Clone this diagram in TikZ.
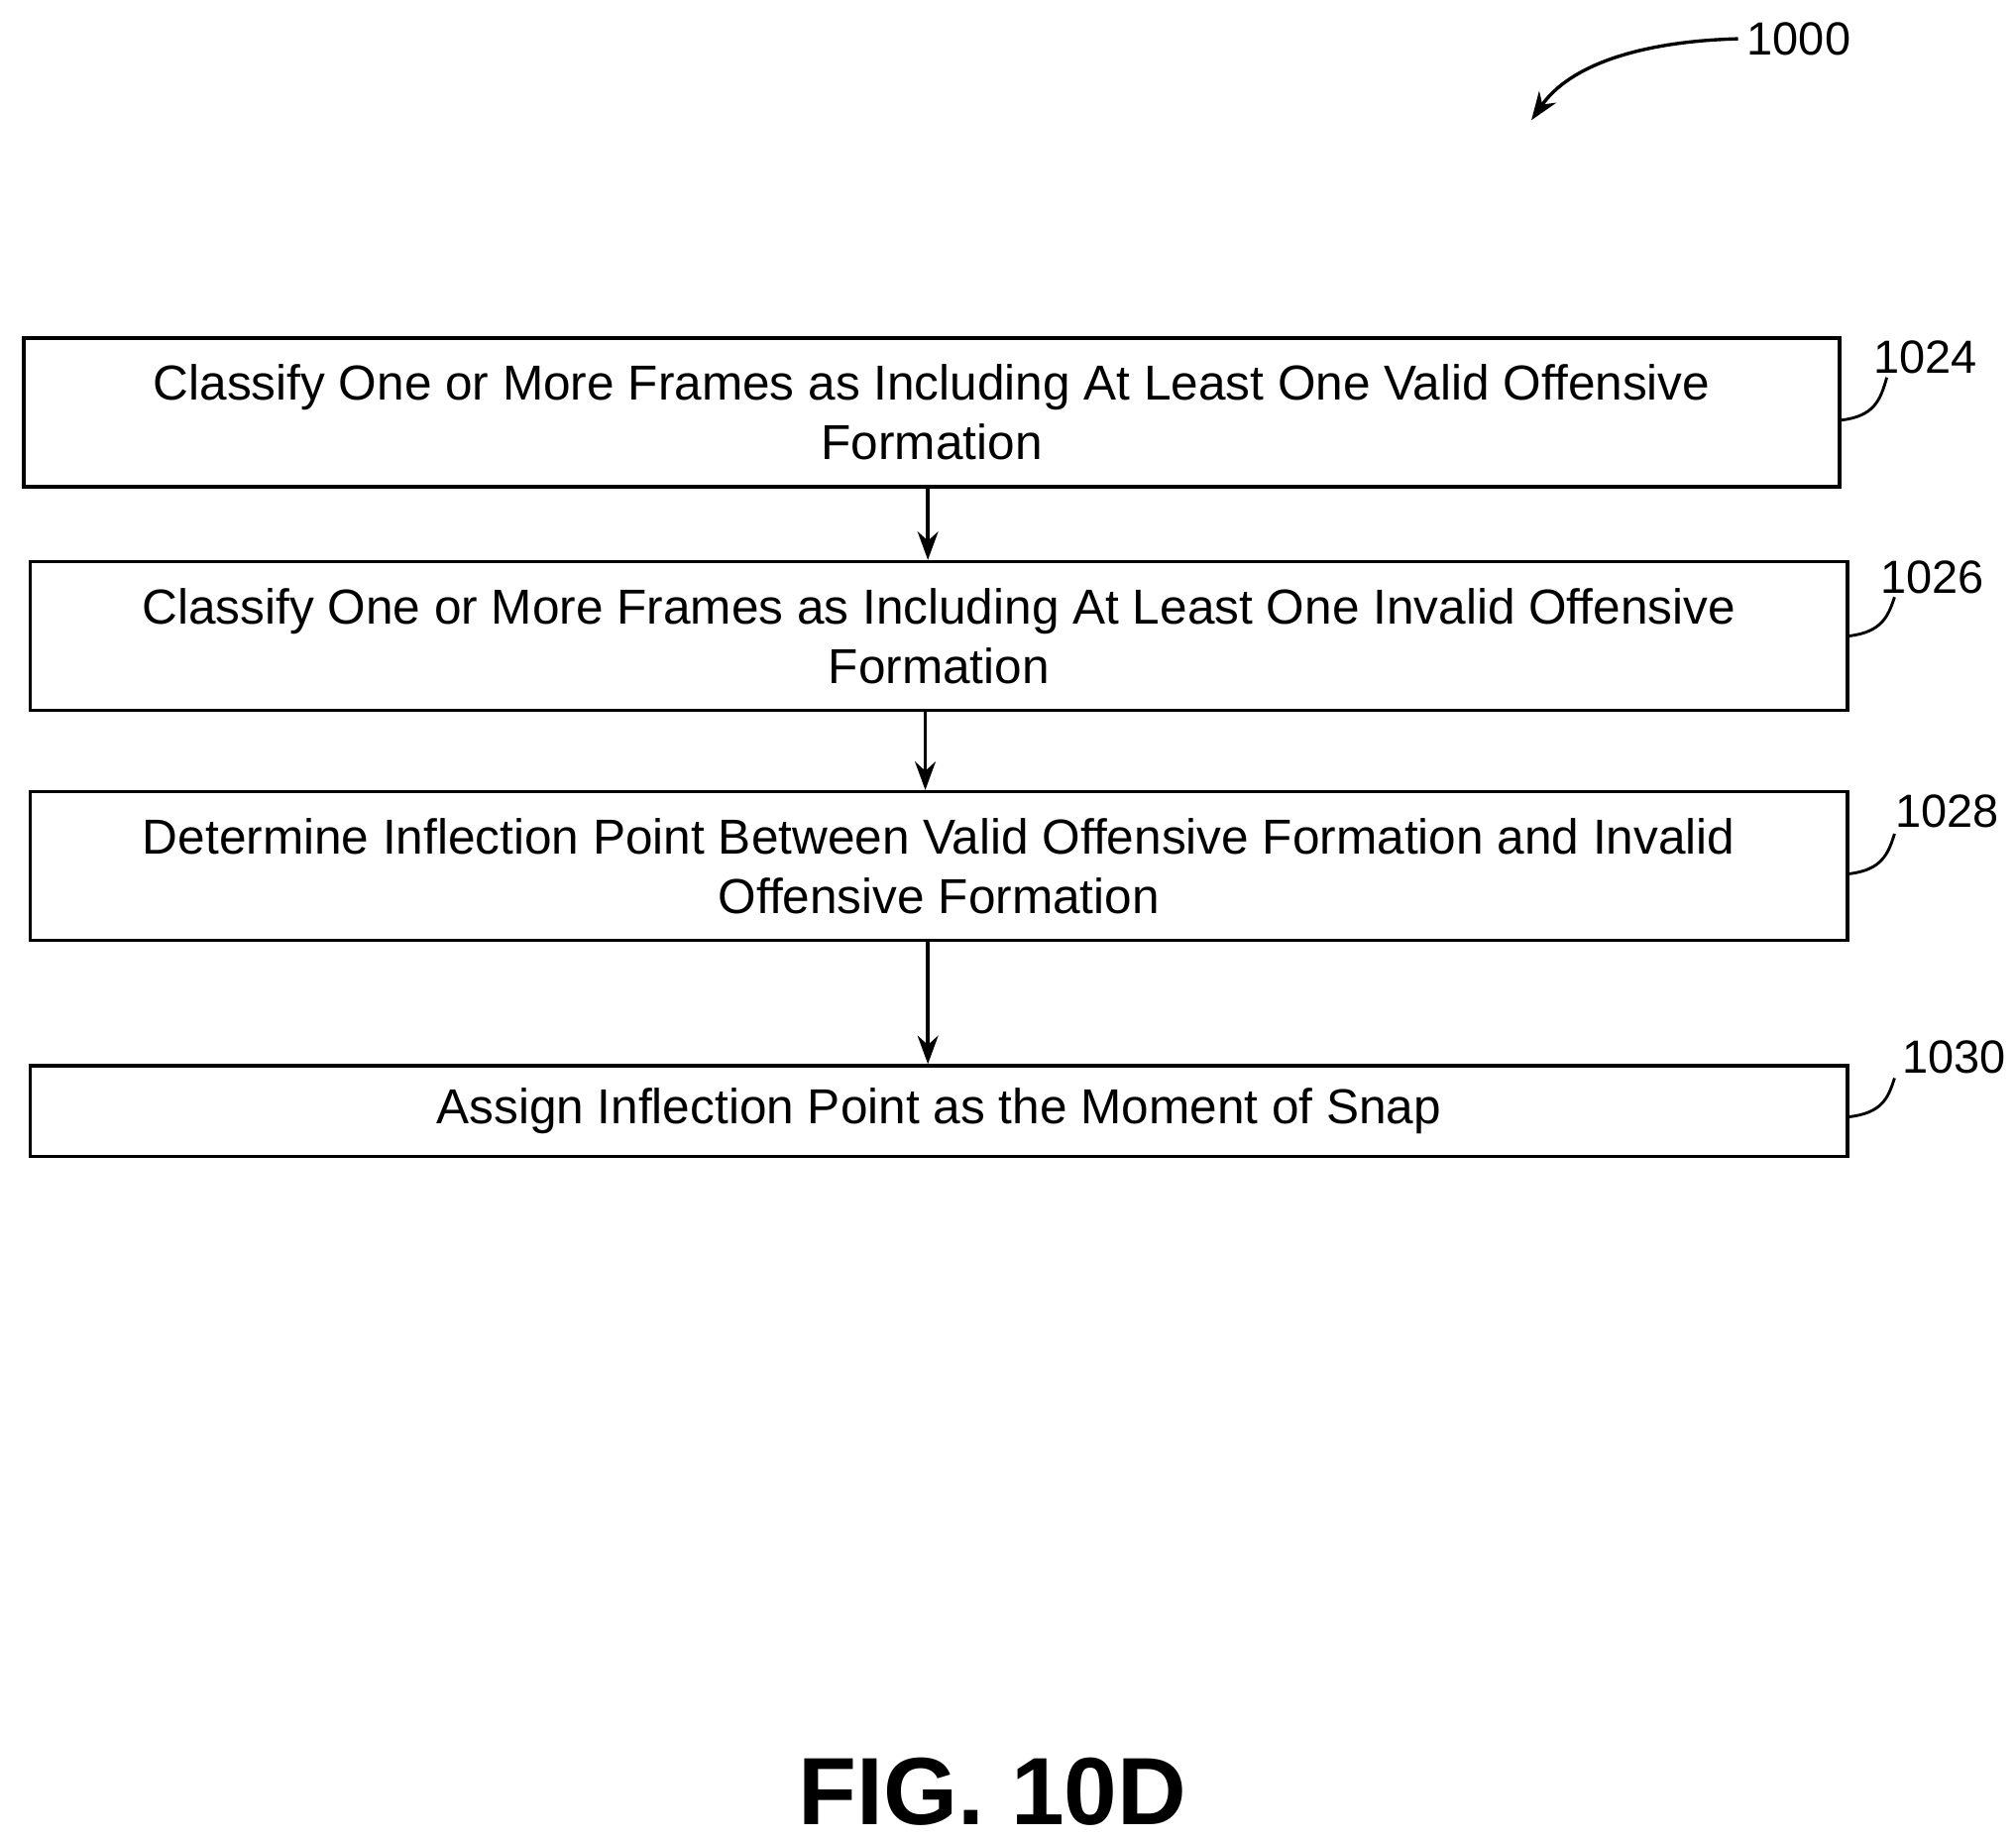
\documentclass[tikz,border=0pt]{standalone}
\usepackage{fontspec}
\setmainfont{Liberation Sans}
\usetikzlibrary{arrows.meta}
\begin{document}
\begin{tikzpicture}[x=0.5pt,y=-0.5pt,
  box/.style={draw,line width=1.3pt,inner sep=0pt,align=center,font=\fontsize{19}{23}\selectfont},
  lbl/.style={font=\fontsize{18}{20}\selectfont,anchor=center},
  lead/.style={line width=1.1pt},
  arr/.style={line width=1.3pt,-{Stealth[length=11pt,width=8pt]}}]
\useasboundingbox (0,0) rectangle (1560,1424);
\node[box,minimum width=702.5pt,minimum height=57.5pt] (b1) at (721,319) {Classify One or More Frames as Including At Least One Valid Offensive\\Formation};
\node[box,minimum width=703pt,minimum height=57.5pt] (b2) at (726.5,492) {Classify One or More Frames as Including At Least One Invalid Offensive\\Formation};
\node[box,minimum width=703pt,minimum height=57.5pt] (b3) at (726.5,670) {Determine Inflection Point Between Valid Offensive Formation and Invalid\\Offensive Formation};
\node[box,minimum width=703pt,minimum height=35pt] (b4) at (726.5,859.5) {Assign Inflection Point as the Moment of Snap};
\draw[arr] (b1.south -| 718,0) -- (b2.north -| 718,0);
\draw[arr] (b2.south -| 716,0) -- (b3.north -| 716,0);
\draw[arr] (b3.south -| 718,0) -- (b4.north -| 718,0);
\node[lbl] (l1) at (1490,276) {1024};
\node[lbl] (l2) at (1495,447) {1026};
\node[lbl] (l3) at (1507,628) {1028};
\node[lbl] (l4) at (1512,818) {1030};
\draw[lead] (b1.east |- 0,325) .. controls (1450,322) and (1455,310) .. (1460,292);
\draw[lead] (b2.east |- 0,492) .. controls (1456,489) and (1461,477) .. (1466,462);
\draw[lead] (b3.east |- 0,676) .. controls (1456,673) and (1461,661) .. (1466,645);
\draw[lead] (b4.east |- 0,864) .. controls (1456,861) and (1461,850) .. (1466,834);
\node[lbl] (top) at (1392,30) {1000};
\coordinate (tgt) at (1185,93);
\draw[arr] (top.west) .. controls (1270,32) and (1215,50) .. (tgt);
\node[font=\bfseries\fontsize{37}{40}\selectfont] (fig) at (768,1386) {FIG. 10D};
\end{tikzpicture}
\end{document}
